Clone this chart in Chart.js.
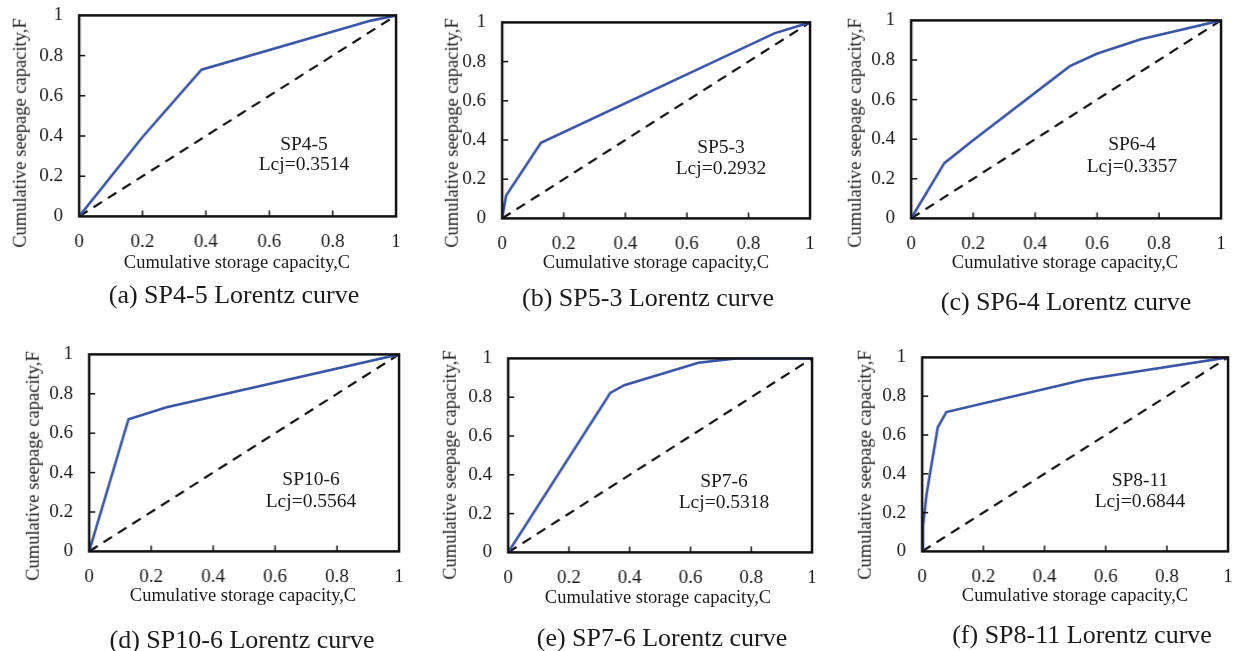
<!DOCTYPE html>
<html>
<head>
<meta charset="utf-8">
<script src="https://cdn.jsdelivr.net/npm/chart.js@4.4.1/dist/chart.umd.min.js"></script>
<style>
body { margin: 0; background: #fff; width: 1233px; height: 651px; position: relative; overflow: hidden;
       font-family: "Liberation Serif", "Times New Roman", serif; color: #1a1a1a; }
canvas { position: absolute; }
.txt { position: absolute; white-space: nowrap; transform: translate(-50%, -50%); line-height: 1; }
.ytitle { transform: translate(-50%, -50%) rotate(-90deg); }
.axis { font-size: 18.5px; }
.cap { font-size: 26px; }
.ann { font-size: 19.5px; }
</style>
</head>
<body>
<script>
// Data
const wellNames = ['SP4-5', 'SP5-3', 'SP6-4', 'SP10-6', 'SP7-6', 'SP8-11'];
const lcjValues = ['0.3514', '0.2932', '0.3357', '0.5564', '0.5318', '0.6844'];
const captionLetters = ['a', 'b', 'c', 'd', 'e', 'f'];
const tickValues = [0, 0.2, 0.4, 0.6, 0.8, 1];
const tickLabels = ['0', '0.2', '0.4', '0.6', '0.8', '1'];
const diagonal = [0, 1];

const cSP45 = [0, 0.2, 0.386, 0.921, 1];
const fSP45 = [0, 0.395, 0.730, 0.974, 1];
const cSP53 = [0, 0.013, 0.126, 0.884, 1];
const fSP53 = [0, 0.117, 0.386, 0.944, 1];
const cSP64 = [0, 0.107, 0.2, 0.512, 0.601, 0.741, 1];
const fSP64 = [0, 0.279, 0.395, 0.769, 0.833, 0.905, 1];
const cSP106 = [0, 0.127, 0.25, 1];
const fSP106 = [0, 0.671, 0.732, 1];
const cSP76 = [0, 0.336, 0.382, 0.626, 0.75, 1];
const fSP76 = [0, 0.822, 0.862, 0.978, 1, 1];
const cSP811 = [0, 0.003, 0.015, 0.051, 0.079, 0.529, 1];
const fSP811 = [0, 0.13, 0.30, 0.64, 0.718, 0.885, 1];

const curvesC = [cSP45, cSP53, cSP64, cSP106, cSP76, cSP811];
const curvesF = [fSP45, fSP53, fSP64, fSP106, fSP76, fSP811];

// Plot box and text positions for each panel (pixels)
const layout = [
  { L: 79,  R: 395,  T: 15,  B: 216, yt: [20, 133],  xt: [237, 262],  cap: [234, 295],  ann: [304, 144, 164] },
  { L: 502, R: 809,  T: 22,  B: 218, yt: [452, 133], xt: [656, 262],  cap: [648, 298],  ann: [721, 147, 168] },
  { L: 911, R: 1220, T: 20,  B: 218, yt: [855, 133], xt: [1065, 262], cap: [1066, 302], ann: [1132, 144, 166] },
  { L: 89,  R: 398,  T: 354, B: 551, yt: [33, 466],  xt: [243, 595],  cap: [242, 640],  ann: [311, 479, 501] },
  { L: 508, R: 811,  T: 358, B: 552, yt: [450, 465], xt: [658, 597],  cap: [662, 638],  ann: [724, 481, 502] },
  { L: 922, R: 1227, T: 357, B: 551, yt: [865, 465], xt: [1075, 595], cap: [1082, 635], ann: [1140, 480, 501] }
];

const Y_AXIS_W = 60;
const X_AXIS_H = 40;
const PAD = 12;
const tickFont = { family: '"Liberation Serif", "Times New Roman", serif', size: 19 };

// black frame round the plot, with short inward ticks on the bottom and left
const framePlugin = {
  id: 'frame',
  afterDraw(chart) {
    const { ctx, chartArea: a, scales: { x, y } } = chart;
    ctx.save();
    ctx.strokeStyle = '#111';
    ctx.lineWidth = 1.5;
    tickValues.slice(1, -1).forEach(v => {
      const px = x.getPixelForValue(v);
      ctx.beginPath(); ctx.moveTo(px, a.bottom); ctx.lineTo(px, a.bottom - 6); ctx.stroke();
      const py = y.getPixelForValue(v);
      ctx.beginPath(); ctx.moveTo(a.left, py); ctx.lineTo(a.left + 6, py); ctx.stroke();
    });
    ctx.lineWidth = 2.5;
    ctx.strokeRect(a.left, a.top, a.right - a.left, a.bottom - a.top);
    ctx.restore();
  }
};

function addText(cls, text, x, y) {
  const d = document.createElement('div');
  d.className = 'txt ' + cls;
  d.textContent = text;
  d.style.left = x + 'px';
  d.style.top = y + 'px';
  document.body.appendChild(d);
}

function axisOptions(isX) {
  return {
    type: 'linear',
    min: 0,
    max: 1,
    afterBuildTicks: s => { s.ticks = tickValues.map(v => ({ value: v })); },
    afterFit: s => { if (isX) s.height = X_AXIS_H; else s.width = Y_AXIS_W; },
    grid: { display: false, drawTicks: false },
    border: { display: false },
    ticks: {
      font: tickFont,
      color: '#1a1a1a',
      padding: isX ? 14 : 16,
      maxRotation: 0,
      autoSkip: false,
      callback: (v, idx) => tickLabels[idx]
    }
  };
}

layout.forEach((box, i) => {
  const canvas = document.createElement('canvas');
  let left = box.L - Y_AXIS_W;
  let top = box.T - PAD;
  let w = box.R - box.L + Y_AXIS_W + PAD;
  let h = box.B - box.T + PAD + X_AXIS_H;
  canvas.width = w;
  canvas.height = h;
  canvas.style.left = left + 'px';
  canvas.style.top = top + 'px';
  canvas.style.width = w + 'px';
  canvas.style.height = h + 'px';
  document.body.appendChild(canvas);

  const chart = new Chart(canvas, {
    type: 'scatter',
    data: {
      datasets: [
        {
          data: curvesC[i].map((c, k) => ({ x: c, y: curvesF[i][k] })),
          showLine: true,
          borderColor: '#3a55a8',
          borderWidth: 2.6,
          pointRadius: 0,
          tension: 0
        },
        {
          data: diagonal.map(v => ({ x: v, y: v })),
          showLine: true,
          borderColor: '#111',
          borderWidth: 2.2,
          borderDash: [10, 7],
          pointRadius: 0
        }
      ]
    },
    options: {
      responsive: false,
      maintainAspectRatio: false,
      animation: false,
      devicePixelRatio: 1,
      layout: { padding: { top: PAD, right: PAD, left: 0, bottom: 0 } },
      plugins: { legend: { display: false }, tooltip: { enabled: false } },
      scales: { x: axisOptions(true), y: axisOptions(false) }
    },
    plugins: [framePlugin]
  });

  // nudge the canvas so the plot box lands where it is in the figure
  for (let pass = 0; pass < 3; pass++) {
    const a = chart.chartArea;
    const dl = box.L - (left + a.left);
    const dt = box.T - (top + a.top);
    const dr = box.R - (left + a.right);
    const db = box.B - (top + a.bottom);
    if (!dl && !dt && !dr && !db) break;
    left += dl;
    top += dt;
    w += dr - dl;
    h += db - dt;
    canvas.style.left = left + 'px';
    canvas.style.top = top + 'px';
    chart.resize(w, h);
  }

  addText('axis ytitle', 'Cumulative seepage capacity,F', box.yt[0], box.yt[1]);
  addText('axis', 'Cumulative storage capacity,C', box.xt[0], box.xt[1]);
  addText('cap', '(' + captionLetters[i] + ') ' + wellNames[i] + ' Lorentz curve', box.cap[0], box.cap[1]);
  addText('ann', wellNames[i], box.ann[0], box.ann[1]);
  addText('ann', 'Lcj=' + lcjValues[i], box.ann[0], box.ann[2]);
});
</script>
</body>
</html>
